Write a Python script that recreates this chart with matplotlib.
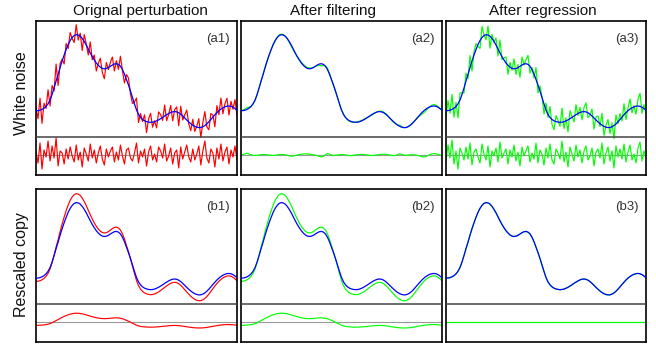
import numpy as np
import matplotlib
matplotlib.use("Agg")
import matplotlib.pyplot as plt

plt.rcParams["font.family"] = ["Liberation Sans", "DejaVu Sans"]

# true signal (height above the divider line), 101 samples across the panel
SIGNAL = [
    26.3, 26.4, 26.8, 27.6, 28.8, 30.6, 33.2, 37.0, 42.5, 49.0,
    56.0, 62.5, 69.5, 76.0, 82.0, 87.5, 92.5, 96.5, 99.5, 101.5,
    102.3, 102.0, 100.8, 98.5, 95.5, 92.0, 88.0, 84.0, 80.3, 77.0,
    74.0, 71.7, 69.8, 68.6, 68.2, 68.5, 69.4, 70.7, 72.0, 73.0,
    73.3, 72.6, 70.8, 67.5, 63.0, 57.5, 52.0, 46.0, 39.5, 33.0,
    27.0, 22.5, 19.5, 17.5, 16.2, 15.4, 14.9, 14.7, 14.8, 15.3,
    16.1, 17.1, 18.3, 19.6, 21.0, 22.3, 23.5, 24.5, 25.2, 25.4,
    25.1, 24.2, 22.8, 21.0, 19.0, 17.0, 15.1, 13.3, 11.8, 10.6,
    9.8, 9.4, 9.5, 10.2, 11.4, 13.1, 15.2, 17.5, 19.9, 22.2,
    24.4, 26.3, 27.9, 29.2, 30.2, 30.8, 31.0, 30.7, 29.8, 28.4,
    26.7,
]

# white noise added in (a1)
NOISE_A1 = [
    3, -8, 12, -14, 5, -2, 14, -6, 9, -3,
    17, -11, 4, 2, -9, 6, -4, 8, -1, -7,
    10, -5, 3, -12, 7, 1, -6, 11, -3, 5,
    -8, 2, 9, -4, -10, 6, -2, 4, 8, -7,
    3, -5, 10, -1, -9, 5, 7, -3, -6, 2,
    12, -8, 4, -2, 6, -11, 3, 9, -5, 1,
    -7, 8, 4, -3, 11, -6, -1, 7, -9, 2,
    5, -13, 8, -4, 3, 10, -2, -7, 6, -5,
    1, 9, -10, 4, 14, -3, -8, 6, 2, -12,
    7, -4, 11, -6, 3, 8, -9, 5, -2, 9,
    -5,
]

# residual left after filtering (a2)
RESID_A2 = [
    0, 0.5, 1.2, 1.8, 1.0, 0.2, -0.3, -0.5, -0.3, 0,
    0.3, 0.5, 0.4, 0.2, 0, -0.2, -0.4, -0.3, 0, 0.4,
    0.6, 0.5, 0.2, -0.3, -0.8, -1.2, -1.0, -0.5, 0, 0.5,
    0.8, 1.0, 1.1, 1.0, 0.8, 0.5, 0.2, -0.1, -0.6, -1.4,
    -2.0, -1.2, 0.3, 1.5, 0.8, 0, -0.3, -0.2, 0, 0.3,
    0.5, 0.4, 0.1, -0.3, -0.6, -0.5, -0.2, 0.1, 0.3, 0.5,
    0.6, 0.5, 0.3, 0, -0.3, -0.5, -0.4, -0.1, 0.2, 0.5,
    0.7, 0.8, 0.7, 0.4, 0, -0.4, -0.6, -0.3, 0.3, 1.2,
    0.5, 0, -0.2, -0.1, 0.1, 0.3, 0.2, -0.1, -0.5, -1.0,
    -1.6, -2.0, -1.5, -0.6, 0.3, 1.0, 1.6, 1.2, 0.6, 0.2,
    0,
]

# residual left after regression (a3)
RESID_A3 = [
    -6, 10, -3, 15, -9, 4, -14, 7, 2, -5,
    8, -4, 12, -10, 3, 6, -2, -8, 11, 1,
    -5, 9, -12, 4, -1, 7, -7, 13, -3, 2,
    6, -9, 5, -2, 10, -6, 3, -11, 8, -1,
    4, 9, -7, 2, -4, 12, -8, 5, 1, -10,
    7, -3, 11, -5, -9, 6, 2, -4, 14, -7,
    3, -12, 8, 1, -6, 10, -2, 5, -8, 4,
    9, -5, -1, 7, -11, 3, 6, -3, 12, -9,
    2, 8, -6, 4, -13, 9, -2, 6, -4, 11,
    -7, 3, 10, -5, 1, -8, 7, 13, -6, 4,
    -2,
]

RESCALE_GAIN = 1.16
RESCALE_OFFSET = -7.4

COL_TITLES = ["Orignal perturbation", "After filtering", "After regression"]
ROW_TITLES = ["White noise", "Rescaled copy"]
PANEL_TAGS = [["(a1)", "(a2)", "(a3)"], ["(b1)", "(b2)", "(b3)"]]

RED, GREEN, BLUE = "#ff0000", "#00ff00", "#0000ff"
BASE = -18  # baseline of the residual strip

signal = np.array(SIGNAL)
x = np.linspace(0, 1, len(signal))
rescaled = RESCALE_GAIN * signal + RESCALE_OFFSET

# (curve, colour, residual) per panel
panels = [
    [(signal + np.array(NOISE_A1), RED, np.array(NOISE_A1)),
     (signal + np.array(RESID_A2), GREEN, np.array(RESID_A2)),
     (signal + np.array(RESID_A3), GREEN, np.array(RESID_A3))],
    [(rescaled, RED, rescaled - signal),
     (rescaled, GREEN, rescaled - signal),
     (signal, GREEN, np.zeros_like(signal))],
]

W, H = 656, 347
fig = plt.figure(figsize=(W / 100, H / 100), dpi=100)

lefts = [36, 241, 446]
widths = [201, 201, 200]
tops = [21, 189]
bottoms = [175, 342]

for r in range(2):
    for c in range(3):
        ax = fig.add_axes([lefts[c] / W, 1 - bottoms[r] / H,
                           widths[c] / W, (bottoms[r] - tops[r]) / H])
        curve, color, resid = panels[r][c]
        ax.plot(x, curve, color=color, lw=0.85, zorder=2)
        ax.plot(x, signal, color=BLUE, lw=0.9, zorder=3)
        ax.axhline(0, color="#444444", lw=1.1, zorder=4)
        ax.axhline(BASE, color="#999999", lw=0.8, zorder=1.5)
        ax.plot(x, BASE + resid, color=color, lw=0.85, zorder=2)
        ax.set_xlim(0, 1)
        ax.set_ylim(-38, 116)
        ax.set_xticks([]); ax.set_yticks([])
        for s in ax.spines.values():
            s.set_linewidth(1.2)
        ax.text(0.965, 0.885, PANEL_TAGS[r][c], transform=ax.transAxes,
                ha="right", va="center", fontsize=9.5, color="#333333")

title_x = [140.5, 333, 543]
for c, t in enumerate(COL_TITLES):
    fig.text(title_x[c] / W, 1 - 11 / H, t, ha="center", va="center",
             fontsize=11, color="#111111")

row_y = [93, 265]
for r, t in enumerate(ROW_TITLES):
    fig.text(21.5 / W, 1 - row_y[r] / H, t, ha="center", va="center",
             rotation=90, fontsize=11.5, color="#111111")

fig.savefig("out.png", dpi=100, facecolor="white")
plt.close()
